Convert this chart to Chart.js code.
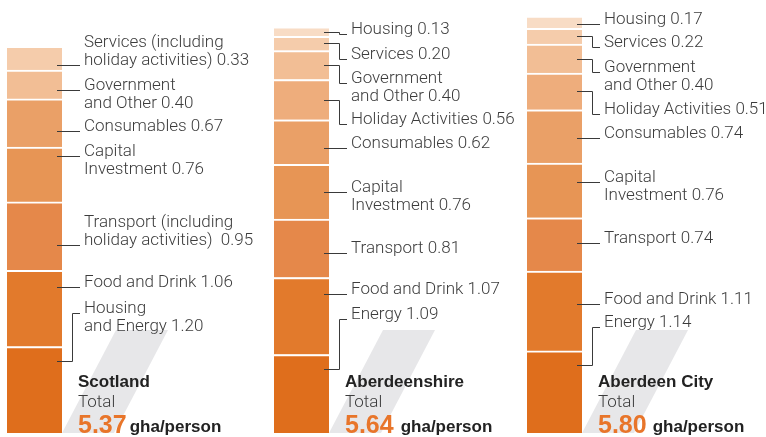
<!DOCTYPE html>
<html>
<head>
<meta charset="utf-8">
<script src="https://cdn.jsdelivr.net/npm/chart.js@4.4.1/dist/chart.umd.min.js"></script>
<style>
    body { margin: 0; background: #fff; }
    #wrap { position: relative; width: 766px; height: 437px; }
    #wrap canvas { position: absolute; left: 0; top: 0; }
</style>
</head>
<body>
<div id="wrap">
    <canvas id="chart0" width="766" height="437"></canvas>
    <canvas id="chart1" width="766" height="437"></canvas>
    <canvas id="chart2" width="766" height="437"></canvas>
</div>
<script>
// Ecological footprint per person (gha), segments listed bottom to top
const regionNames = ['Scotland', 'Aberdeenshire', 'Aberdeen City'];
const regionTotals = ['5.37', '5.64', '5.80'];

const scotlandCategories = [
    ['Housing', 'and Energy'],
    ['Food and Drink'],
    ['Transport (including', 'holiday activities) '],
    ['Capital', 'Investment'],
    ['Consumables'],
    ['Government', 'and Other'],
    ['Services (including', 'holiday activities)']
];
const scotlandValues = [1.20, 1.06, 0.95, 0.76, 0.67, 0.40, 0.33];

const aberdeenshireCategories = [
    ['Energy'],
    ['Food and Drink'],
    ['Transport'],
    ['Capital', 'Investment'],
    ['Consumables'],
    ['Holiday Activities'],
    ['Government', 'and Other'],
    ['Services'],
    ['Housing']
];
const aberdeenshireValues = [1.09, 1.07, 0.81, 0.76, 0.62, 0.56, 0.40, 0.20, 0.13];

const aberdeenCityCategories = aberdeenshireCategories;
const aberdeenCityValues = [1.14, 1.11, 0.74, 0.76, 0.74, 0.51, 0.40, 0.22, 0.17];

// Segment colours, dark at the bottom to light at the top
const scotlandColors = ['#DF6E1C', '#E27A2C', '#E5884A', '#E79555', '#EAA067', '#F2BE95', '#F5CCAB'];
const nineColors = ['#DF6E1C', '#E27A2C', '#E5884A', '#E79555', '#EAA067', '#EEAD7C', '#F2BE95', '#F5CCAB', '#F8DCC5'];

// Label layout: y of each leader line at the text, and which text line it points to
const columns = [
    { barLeft: 7,   categories: scotlandCategories, values: scotlandValues, colors: scotlandColors,
      leaderY: [313, 287, 245, 156, 131, 90, 65], attach: [0, 0, 1, 0, 0, 0, 1], unitGap: 3 },
    { barLeft: 274, categories: aberdeenshireCategories, values: aberdeenshireValues, colors: nineColors,
      leaderY: [319, 294, 253, 192, 148, 124, 83, 59, 34], attach: [0, 0, 0, 0, 0, 0, 0, 0, 0], unitGap: 7 },
    { barLeft: 527, categories: aberdeenCityCategories, values: aberdeenCityValues, colors: nineColors,
      leaderY: [327, 304, 243, 182, 138, 114, 72, 47, 24], attach: [0, 0, 0, 0, 0, 0, 0, 0, 0], unitGap: 6 }
];

const BAR_WIDTH = 55;
const LINE_HEIGHT = 18;
const FONT = '"Liberation Sans", Arial, sans-serif';

const footprintLabels = {
    id: 'footprintLabels',
    beforeDatasetsDraw(chart, args, opts) {
        // grey slanted shadow behind the total
        const ctx = chart.ctx;
        const a = chart.chartArea;
        const topY = a.bottom - 103;
        ctx.save();
        ctx.fillStyle = '#E7E7E9';
        ctx.beginPath();
        ctx.moveTo(a.right, a.bottom);
        ctx.lineTo(a.right + 54, topY);
        ctx.lineTo(a.right + 106, topY);
        ctx.lineTo(a.right + 52, a.bottom);
        ctx.closePath();
        ctx.fill();
        ctx.restore();
    },
    afterDatasetsDraw(chart, args, opts) {
        const ctx = chart.ctx;
        const a = chart.chartArea;
        ctx.save();
        ctx.lineWidth = 1;
        ctx.strokeStyle = '#3a3a3a';
        ctx.fillStyle = '#3c3c3c';
        ctx.font = '300 17px Roboto, ' + FONT;
        ctx.textBaseline = 'middle';
        ctx.textAlign = 'left';

        chart.data.datasets.forEach((ds, i) => {
            const bar = chart.getDatasetMeta(i).data[0];
            const top = bar.y, bottom = bar.base;
            const ly = Math.round(opts.leaderY[i]) + 0.5;
            const x0 = a.right - 5, x1 = a.right + 18, xe = a.right + 10 + 0.5;

            ctx.beginPath();
            if (ly >= top + 2 && ly <= bottom - 2) {
                ctx.moveTo(x0, ly);
                ctx.lineTo(x1, ly);
            } else {
                const h = bottom - top;
                const sy = Math.round(h < 50 ? (top + bottom) / 2 : top + 14) + 0.5;
                ctx.moveTo(x0, sy);
                ctx.lineTo(xe, sy);
                ctx.lineTo(xe, ly);
                ctx.lineTo(x1, ly);
            }
            ctx.stroke();

            const lines = ds.nameLines.slice();
            lines[lines.length - 1] += ' ' + ds.data[0].toFixed(2);
            lines.forEach((t, k) => {
                ctx.fillText(t, a.right + 22, opts.leaderY[i] - 4 + (k - opts.attach[i]) * LINE_HEIGHT);
            });
        });

        // region name and total footprint
        const tx = a.right + 16;
        ctx.textBaseline = 'alphabetic';
        ctx.fillStyle = '#222';
        ctx.font = 'bold 17px ' + FONT;
        ctx.fillText(opts.name, tx, 387);
        ctx.fillStyle = '#3c3c3c';
        ctx.font = '300 17px Roboto, ' + FONT;
        ctx.fillText('Total', tx, 407);
        ctx.fillStyle = '#E8752A';
        ctx.font = 'bold 25px ' + FONT;
        ctx.fillText(opts.total, tx, 433);
        const w = ctx.measureText(opts.total).width;
        ctx.fillStyle = '#222';
        ctx.font = 'bold 17px ' + FONT;
        ctx.fillText('gha/person', tx + w + opts.unitGap, 432);
        ctx.restore();
    }
};

columns.forEach((col, idx) => {
    const datasets = col.values.map((v, i) => ({
        label: col.categories[i].join(' '),
        nameLines: col.categories[i],
        data: [v],
        backgroundColor: col.colors[i],
        borderColor: '#ffffff',
        borderWidth: { top: 2, left: 0, right: 0, bottom: 0 },
        borderSkipped: false,
        barPercentage: 1,
        categoryPercentage: 1
    }));

    new Chart(document.getElementById('chart' + idx), {
        type: 'bar',
        data: { labels: [regionNames[idx]], datasets: datasets },
        options: {
            responsive: false,
            animation: false,
            layout: {
                padding: { left: col.barLeft, right: 766 - col.barLeft - BAR_WIDTH, top: 1, bottom: 4 }
            },
            scales: {
                x: { display: false, stacked: true },
                y: { display: false, stacked: true, min: 0, max: 6 }
            },
            plugins: {
                legend: { display: false },
                tooltip: { enabled: false },
                footprintLabels: {
                    name: regionNames[idx],
                    total: regionTotals[idx],
                    leaderY: col.leaderY,
                    attach: col.attach,
                    unitGap: col.unitGap
                }
            }
        },
        plugins: [footprintLabels]
    });
});
</script>
</body>
</html>
